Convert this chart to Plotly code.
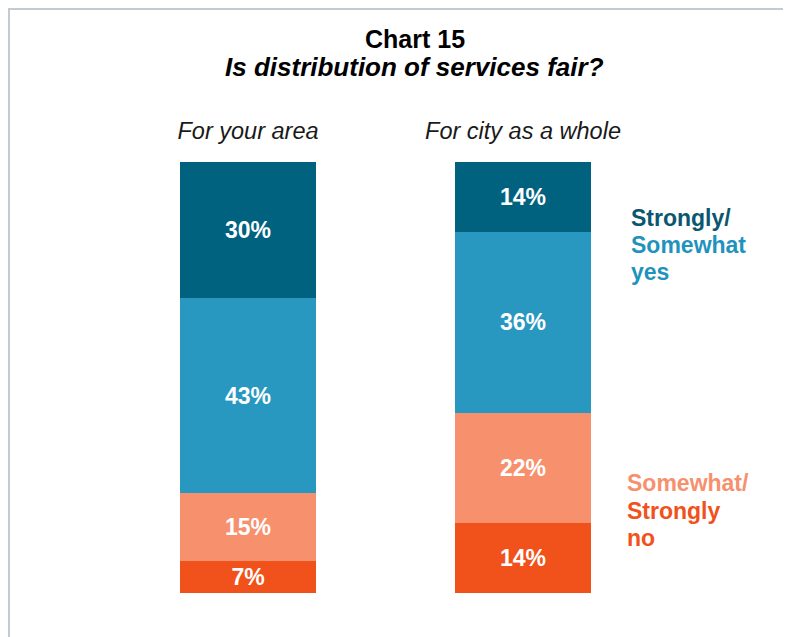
import plotly.graph_objects as go

categories = ["For your area", "For city as a whole"]
series_names = ["Strongly no", "Somewhat no", "Somewhat yes", "Strongly yes"]
strongly_no = [7, 14]
somewhat_no = [15, 22]
somewhat_yes = [43, 36]
strongly_yes = [30, 14]
colors = ["#F1511B", "#F6906D", "#2898C1", "#00627F"]

title_text = "Chart 15"
subtitle_text = "Is distribution of services fair?"
legend_yes = [("Strongly/", "#0B5670"), ("Somewhat", "#1F93BE"), ("yes", "#1F93BE")]
legend_no = [("Somewhat/", "#F6906D"), ("Strongly", "#F1511B"), ("no", "#F1511B")]

# page has an 8px body margin; figure coordinates = screen - 8
W, H = 783, 629
FONT = "Liberation Sans, Arial, Helvetica, sans-serif"


def px(x):
    return x / W


def py(y):
    return 1 - y / H


fig = go.Figure()
for name, vals, col in zip(series_names, [strongly_no, somewhat_no, somewhat_yes, strongly_yes], colors):
    fig.add_trace(go.Bar(
        x=categories, y=vals, name=name, marker=dict(color=col, line=dict(width=0)),
        text=[f"{v}%" for v in vals], textposition="inside", insidetextanchor="middle",
        textangle=0, textfont=dict(color="white", size=23, family=FONT, weight="bold"),
        width=136 / 275, showlegend=False, hoverinfo="skip",
    ))

fig.update_layout(
    width=W, height=H, barmode="stack", barnorm="percent",
    margin=dict(l=0, r=0, t=0, b=0),
    paper_bgcolor="white", plot_bgcolor="white",
    font=dict(family=FONT, color="black"),
    uniformtext=dict(minsize=23, mode="show"),
    xaxis=dict(
        domain=[0, 1], range=[-240 / 275, (W - 240) / 275], side="top",
        showgrid=False, zeroline=False, showline=False, ticks="",
        tickfont=dict(size=23.5, style="italic", color="#1a1a1a"), ticklabelstandoff=17,
    ),
    yaxis=dict(domain=[py(585), py(154)], range=[0, 100], visible=False),
)

# title lines
fig.add_annotation(xref="paper", yref="paper", x=px(407), y=py(31), xanchor="center", yanchor="middle",
                   showarrow=False, text=f"<b>{title_text}</b>", font=dict(size=25, color="black"))
fig.add_annotation(xref="paper", yref="paper", x=px(406), y=py(59), xanchor="center", yanchor="middle",
                   showarrow=False, text=f"<b><i>{subtitle_text}</i></b>", font=dict(size=26, color="black"))

# side legend text
for i, (t, c) in enumerate(legend_yes):
    fig.add_annotation(xref="paper", yref="paper", x=px(621), y=py(210 + 27 * i), xanchor="left",
                       yanchor="middle", showarrow=False, text=f"<b>{t}</b>", font=dict(size=23, color=c))
for i, (t, c) in enumerate(legend_no):
    fig.add_annotation(xref="paper", yref="paper", x=px(617), y=py(475 + 27.5 * i), xanchor="left",
                       yanchor="middle", showarrow=False, text=f"<b>{t}</b>", font=dict(size=23, color=c))

border = "#C3CAD1"
fig.add_shape(type="line", xref="paper", yref="paper", x0=px(0), x1=1, y0=py(1), y1=py(1),
              line=dict(color=border, width=2))
fig.add_shape(type="line", xref="paper", yref="paper", x0=px(1), x1=px(1), y0=py(0), y1=0,
              line=dict(color=border, width=2))

fig.write_html("out.html")
